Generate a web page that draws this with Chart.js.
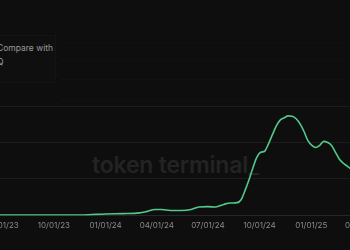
<!DOCTYPE html>
<html>
<head>
<meta charset="utf-8">
<script src="https://cdn.jsdelivr.net/npm/chart.js@4"></script>
<style>
  html, body { margin: 0; padding: 0; background: #0e0e0e; overflow: hidden; }
  body { width: 350px; height: 250px; position: relative; font-family: Inter, sans-serif; }
  #wrap { position: absolute; left: -40px; top: 0; width: 430px; height: 250px; }
  #mark { position: absolute; left: 92px; top: 151px; font: 600 23px Inter, sans-serif; color: #232323; letter-spacing: -0.2px; white-space: nowrap; }
  .dots { position: absolute; left: 62px; width: 280px; border-top: 1px dotted #151515; }
  #menu { position: absolute; left: -12px; top: 35px; width: 66px; height: 46px; border: 1px dotted #181818; background: #0f0f0f; color: #9a9a9a; font-size: 8.5px; }
</style>
</head>
<body>
<div class="dots" style="top:42px"></div>
<div class="dots" style="top:59px"></div>
<div class="dots" style="top:79px"></div>
<div class="dots" style="top:99px"></div>
<div id="mark">token terminal_</div>
<div id="menu">
  <div style="position:absolute;left:8px;top:7px;white-space:nowrap">Compare with</div>
  <div style="position:absolute;left:8px;top:21px">Q</div>
</div>
<div id="wrap"><canvas id="chart"></canvas></div>
<script>
// weekly-ish readings, y in units of the (hidden) axis: gridlines at 0/100/200/300
const dates = [
  '2023-04-01','2023-06-01','2023-08-01','2023-10-01','2023-11-15','2023-12-01',
  '2024-01-01','2024-02-01','2024-03-01','2024-03-15','2024-03-29','2024-04-10',
  '2024-04-25','2024-05-15','2024-06-01','2024-06-15','2024-07-01','2024-07-15',
  '2024-07-29','2024-08-10','2024-08-22','2024-08-29','2024-09-05','2024-09-12',
  '2024-09-19','2024-09-26','2024-10-03','2024-10-10','2024-10-17','2024-10-24',
  '2024-10-31','2024-11-07','2024-11-14','2024-11-21','2024-11-28','2024-12-05',
  '2024-12-12','2024-12-19','2024-12-26','2025-01-02','2025-01-09','2025-01-16',
  '2025-01-23','2025-01-30','2025-02-06','2025-02-13','2025-02-20','2025-02-27',
  '2025-03-06','2025-03-13','2025-03-20'
];
const values = [
  0, 1, 1, 1, 1, 1.5,
  4, 5, 7, 11, 16, 16,
  13.5, 13.5, 16, 23, 24, 23,
  30, 34, 35, 43, 68, 97,
  130, 159, 173, 176, 197, 222,
  246, 262, 268, 273, 272, 265,
  251, 230, 205, 192, 186, 192,
  203, 200, 192, 173, 154, 143,
  135, 127, 125
];
const tickDates = ['2023-07-01','2023-10-01','2024-01-01','2024-04-01','2024-07-01','2024-10-01','2025-01-01','2025-04-01'];
const yTicks = [0, 100, 200, 300];

const ms = s => Date.parse(s + 'T00:00:00Z');
const fmt = v => {
  const d = new Date(v);
  const p = n => String(n).padStart(2, '0');
  return p(d.getUTCMonth() + 1) + '/' + p(d.getUTCDate()) + '/' + String(d.getUTCFullYear()).slice(2);
};

new Chart(document.getElementById('chart'), {
  type: 'line',
  data: {
    datasets: [{
      data: dates.map((d, i) => ({ x: ms(d), y: values[i] })),
      borderColor: '#52c98a',
      borderWidth: 1.6,
      pointRadius: 0,
      tension: 0.4,
      cubicInterpolationMode: 'monotone'
    }]
  },
  options: {
    responsive: true,
    maintainAspectRatio: false,
    animation: false,
    layout: { padding: { top: 106, bottom: 15, left: 0, right: 0 } },
    plugins: { legend: { display: false }, tooltip: { enabled: false } },
    scales: {
      x: {
        type: 'linear',
        min: ms('2023-04-17'),
        max: ms('2025-05-21'),
        afterBuildTicks: s => { s.ticks = tickDates.map(d => ({ value: ms(d) })); },
        ticks: {
          callback: v => fmt(v),
          color: '#8a8a8a',
          font: { family: 'Inter', size: 8 },
          padding: 5,
          maxRotation: 0,
          autoSkip: false
        },
        grid: { display: false, drawTicks: false },
        border: { display: true, color: '#262626' }
      },
      y: {
        min: 0,
        max: 300,
        afterBuildTicks: s => { s.ticks = yTicks.map(v => ({ value: v })); },
        ticks: { display: false },
        grid: { color: '#1c1c1c', drawTicks: false },
        border: { display: false }
      }
    }
  }
});
</script>
</body>
</html>
